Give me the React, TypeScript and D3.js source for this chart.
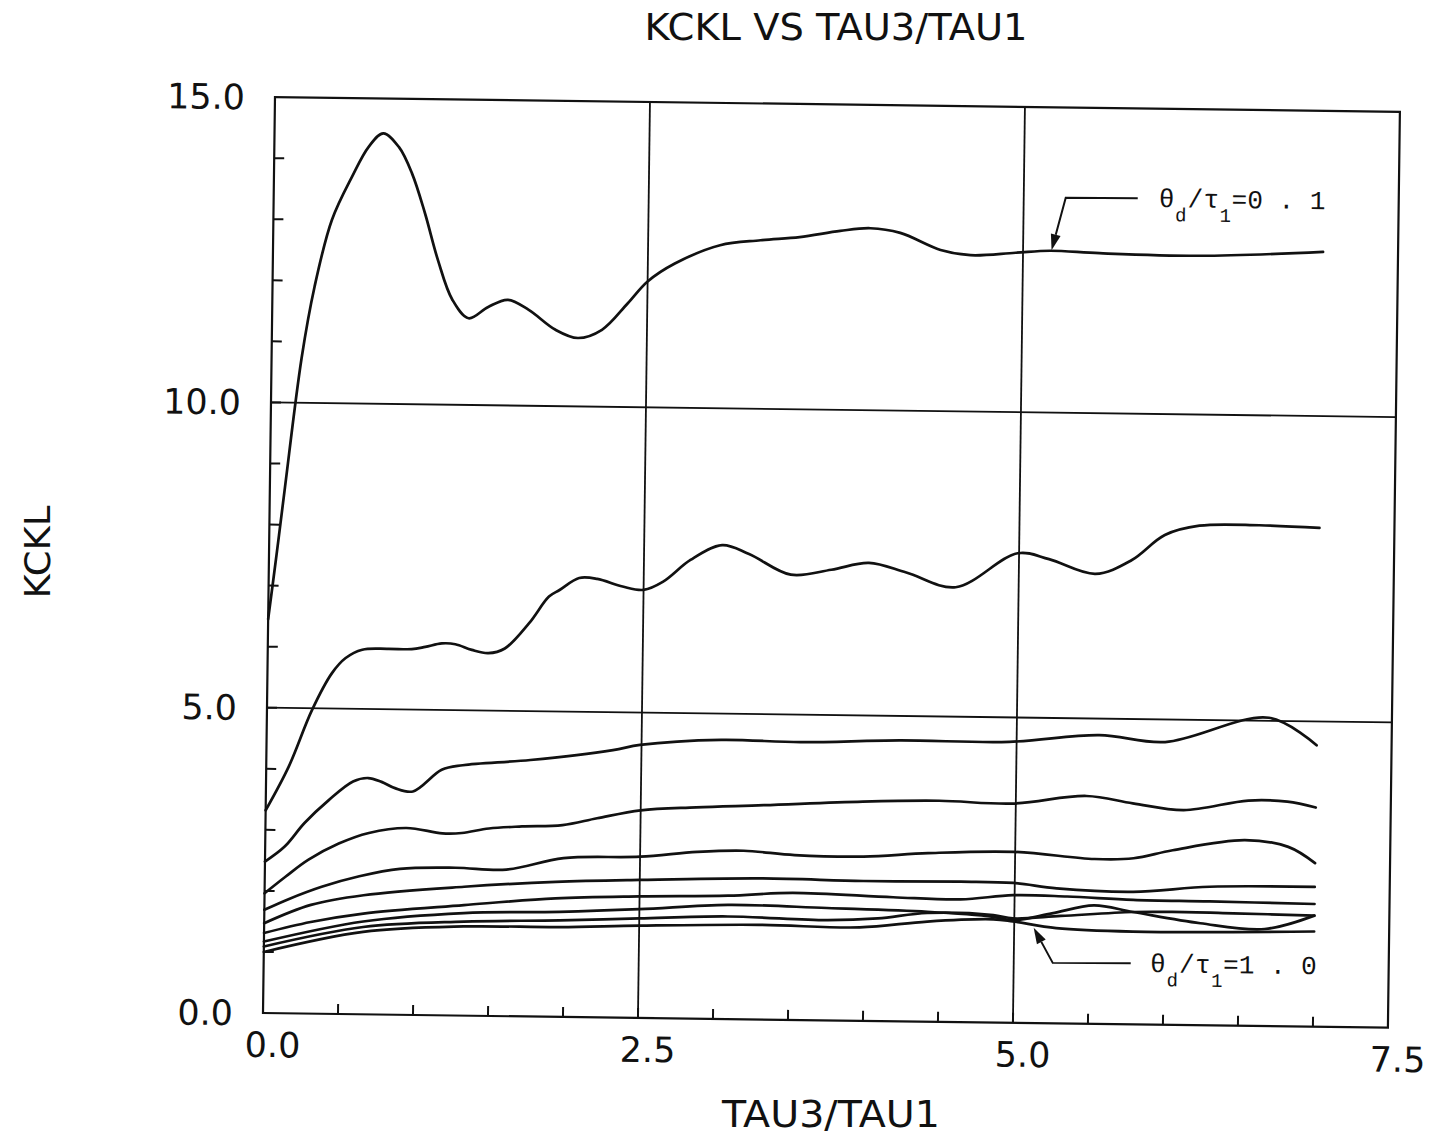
import React from "react";
import * as d3 from "d3";

type Pt = [number, number];

// theta_d / tau_1 for each curve (top curve = 0.1, bottom = 1.0)
const THETA_RATIOS = [0.1, 0.2, 0.3, 0.4, 0.5, 0.6, 0.7, 0.8, 0.9, 1.0];

const K_01: Pt[] = [[0,6.45],[0.05,7.5],[0.1,8.6],[0.2,10.73],[0.28,11.9],[0.39,13.0],[0.52,13.71],[0.63,14.21],[0.725,14.43],[0.83,14.21],[0.92,13.78],[1.01,13.13],[1.10,12.37],[1.20,11.72],[1.31,11.42],[1.44,11.61],[1.57,11.73],[1.71,11.57],[1.89,11.25],[2.04,11.12],[2.20,11.26],[2.37,11.70],[2.5,12.06],[2.68,12.36],[2.98,12.67],[3.25,12.76],[3.51,12.82],[3.78,12.93],[3.98,12.98],[4.18,12.91],[4.45,12.64],[4.65,12.56],[4.95,12.61],[5.18,12.65],[5.51,12.62],[6.18,12.6],[7.0,12.69]];
const K_02: Pt[] = [[0,3.32],[0.15,4.04],[0.3,4.97],[0.43,5.58],[0.52,5.83],[0.63,5.97],[0.8,5.99],[0.96,5.99],[1.05,6.03],[1.16,6.09],[1.25,6.08],[1.36,5.99],[1.47,5.94],[1.58,6.02],[1.74,6.44],[1.87,6.88],[1.94,6.99],[2.07,7.19],[2.19,7.18],[2.36,7.06],[2.5,7.01],[2.63,7.15],[2.81,7.51],[3.02,7.76],[3.2,7.62],[3.48,7.29],[3.75,7.38],[4.0,7.5],[4.25,7.35],[4.58,7.12],[4.99,7.69],[5.2,7.6],[5.51,7.37],[5.75,7.6],[5.97,8.02],[6.2,8.18],[6.6,8.2],[7.0,8.17]];
const K_03: Pt[] = [[0,2.48],[0.13,2.73],[0.26,3.12],[0.42,3.5],[0.58,3.81],[0.68,3.87],[0.77,3.81],[0.86,3.71],[0.98,3.66],[1.17,4.02],[1.31,4.1],[1.76,4.2],[2.31,4.38],[2.49,4.47],[3.03,4.57],[3.56,4.55],[4.22,4.6],[4.95,4.6],[5.55,4.73],[5.99,4.63],[6.68,5.05],[7.0,4.61]];
const K_04: Pt[] = [[0,1.96],[0.14,2.24],[0.29,2.52],[0.49,2.79],[0.69,2.97],[0.94,3.06],[1.18,2.98],[1.31,2.99],[1.49,3.07],[1.71,3.11],[1.98,3.14],[2.21,3.26],[2.5,3.4],[2.87,3.46],[3.32,3.51],[3.98,3.59],[4.49,3.62],[4.98,3.59],[5.47,3.73],[5.78,3.62],[6.12,3.52],[6.55,3.69],[6.81,3.68],[7.0,3.59]];
const K_05: Pt[] = [[0,1.69],[0.16,1.87],[0.38,2.08],[0.63,2.26],[0.9,2.39],[1.27,2.42],[1.61,2.4],[1.99,2.6],[2.5,2.64],[2.88,2.73],[3.19,2.76],[3.53,2.7],[3.99,2.69],[4.42,2.76],[4.99,2.8],[5.53,2.7],[5.79,2.72],[6.05,2.86],[6.53,3.04],[6.82,2.94],[7.0,2.68]];
const K_06: Pt[] = [[0,1.47],[0.31,1.78],[0.66,1.95],[1.33,2.11],[1.94,2.21],[2.5,2.26],[3.32,2.31],[3.99,2.29],[4.64,2.3],[4.99,2.29],[5.28,2.21],[5.79,2.17],[6.3,2.27],[7.0,2.29]];
const K_07: Pt[] = [[0,1.31],[0.31,1.5],[0.66,1.65],[1.33,1.81],[1.94,1.94],[2.5,1.99],[3.09,2.02],[3.52,2.08],[4.19,2.03],[4.64,2.01],[4.99,2.09],[5.35,2.08],[5.79,2.04],[6.3,2.03],[7.0,2.01]];
const K_08: Pt[] = [[0,1.17],[0.66,1.52],[1.33,1.68],[1.97,1.72],[2.5,1.78],[3.09,1.87],[3.75,1.84],[4.42,1.8],[4.86,1.73],[4.99,1.68],[5.25,1.8],[5.53,1.94],[5.79,1.84],[6.24,1.67],[6.67,1.59],[7.0,1.82]];
const K_09: Pt[] = [[0,1.09],[0.66,1.43],[1.33,1.54],[1.97,1.58],[2.5,1.63],[3.09,1.68],[3.75,1.64],[4.09,1.68],[4.42,1.78],[4.86,1.76],[4.99,1.71],[5.31,1.76],[5.79,1.84],[6.05,1.85],[6.46,1.84],[7.0,1.82]];
const K_10: Pt[] = [[0,1.0],[0.66,1.35],[1.33,1.46],[1.97,1.47],[2.5,1.51],[3.3,1.55],[3.97,1.53],[4.42,1.64],[4.86,1.69],[4.99,1.66],[5.28,1.56],[5.79,1.52],[7.0,1.56]];

const CURVES: Pt[][] = [K_01, K_02, K_03, K_04, K_05, K_06, K_07, K_08, K_09, K_10];

const X_TICKS = [0, 2.5, 5.0, 7.5];
const X_TICK_LABELS = ["0.0", "2.5", "5.0", "7.5"];
const Y_TICKS = [0, 5, 10, 15];
const Y_TICK_LABELS = ["0.0", "5.0", "10.0", "15.0"];
const X_GRID = [2.5, 5.0];
const Y_GRID = [5, 10];

// annotation anchors in data units: tip, elbow, end of leader, text start
const NOTE_TOP = { label: "=0 . 1", tip: [5.19, 12.66], elbow: [5.28, 13.52], end: [5.76, 13.53], text: [5.9, 13.39] };
const NOTE_BOT = { label: "=1 . 0", tip: [5.13, 1.56], elbow: [5.26, 0.99], end: [5.78, 1.0], text: [5.91, 0.86] };

const TITLE = "KCKL VS TAU3/TAU1";
const X_TITLE = "TAU3/TAU1";
const Y_TITLE = "KCKL";

const FONT = "'DejaVu Sans', Verdana, sans-serif";
const MONO = "'Liberation Mono', 'DejaVu Sans Mono', monospace";

function Note({ n, x, y }: any) {
  const tip: Pt = [x(n.tip[0]), y(n.tip[1])];
  const el: Pt = [x(n.elbow[0]), y(n.elbow[1])];
  const en: Pt = [x(n.end[0]), y(n.end[1])];
  const ang = Math.atan2(tip[1] - el[1], tip[0] - el[0]);
  const L = 16, Wd = 5;
  const bx = tip[0] - L * Math.cos(ang), by = tip[1] - L * Math.sin(ang);
  const px = -Math.sin(ang) * Wd, py = Math.cos(ang) * Wd;
  const tx = x(n.text[0]), ty = y(n.text[1]);
  // pieces: [text, dx, fontSize, baseline shift]
  const parts: [string, number, number, number][] = [
    ["θ", 0, 26, 0],
    ["d", 16.5, 19, 14],
    ["/", 29, 26, 0],
    ["τ", 45, 26, 0],
    ["1", 61, 19, 14],
    [n.label, 73, 26, 0],
  ];
  return (
    <g>
      <polyline points={`${en[0]},${en[1]} ${el[0]},${el[1]} ${bx},${by}`} fill="none" stroke="#111" strokeWidth={2} />
      <path d={`M${tip[0]},${tip[1]} L${bx + px},${by + py} L${bx - px},${by - py} Z`} fill="#111" />
      {parts.map((p, i) => (
        <text key={i} x={tx + p[1]} y={ty + p[3]} fontFamily={MONO} fontSize={p[2]} fill="#111">{p[0]}</text>
      ))}
    </g>
  );
}

export default function App() {
  const W = 1433, H = 1143;
  const x = d3.scaleLinear().domain([0, 7.5]).range([263, 1388]);
  const y = d3.scaleLinear().domain([0, 15]).range([1013, 97]);
  const line = d3.line<Pt>().x(d => x(d[0])).y(d => y(d[1])).curve(d3.curveCatmullRom.alpha(0.5));
  const rot = `rotate(0.75 ${x(0)} ${y(0)})`;
  const xMinor = d3.range(0.5, 7.5, 0.5);
  const yMinor = d3.range(1, 15, 1);
  const ink = "#111";

  return (
    <svg width={W} height={H} viewBox={`0 0 ${W} ${H}`} style={{ position: "absolute", left: 0, top: 0, background: "#fff" }}>
      <rect x={0} y={0} width={W} height={H} fill="#fff" />
      <text x={836} y={40} textAnchor="middle" fontFamily={FONT} fontSize={37} fill={ink} textLength={383} lengthAdjust="spacingAndGlyphs">{TITLE}</text>
      <text x={831} y={1127} textAnchor="middle" fontFamily={FONT} fontSize={37} fill={ink} textLength={218} lengthAdjust="spacingAndGlyphs">{X_TITLE}</text>
      <text transform="translate(50,552) rotate(-90)" textAnchor="middle" fontFamily={FONT} fontSize={36} fill={ink} textLength={93} lengthAdjust="spacingAndGlyphs">{Y_TITLE}</text>

      <g transform={rot}>
        <rect x={x(0)} y={y(15)} width={x(7.5) - x(0)} height={y(0) - y(15)} fill="none" stroke={ink} strokeWidth={2.2} />
        {X_GRID.map(v => <line key={"gx" + v} x1={x(v)} x2={x(v)} y1={y(0)} y2={y(15)} stroke={ink} strokeWidth={1.8} />)}
        {Y_GRID.map(v => <line key={"gy" + v} x1={x(0)} x2={x(7.5)} y1={y(v)} y2={y(v)} stroke={ink} strokeWidth={1.8} />)}
        {xMinor.map(v => <line key={"tx" + v} x1={x(v)} x2={x(v)} y1={y(0)} y2={y(0) - 10} stroke={ink} strokeWidth={2} />)}
        {yMinor.map(v => <line key={"ty" + v} x1={x(0)} x2={x(0) + 10} y1={y(v)} y2={y(v)} stroke={ink} strokeWidth={2} />)}
        {X_TICKS.map((v, i) => (
          <text key={"lx" + v} x={x(v) + 10} y={y(0) + 44} textAnchor="middle" fontFamily={FONT} fontSize={35} fill={ink}>{X_TICK_LABELS[i]}</text>
        ))}
        {Y_TICKS.map((v, i) => (
          <text key={"ly" + v} x={x(0) - 30} y={y(v) + 12.5} textAnchor="end" fontFamily={FONT} fontSize={35} fill={ink}>{Y_TICK_LABELS[i]}</text>
        ))}
        {CURVES.map((c, i) => (
          <path key={"c" + THETA_RATIOS[i]} d={line(c) || ""} fill="none" stroke={ink} strokeWidth={2.7} strokeLinejoin="round" strokeLinecap="round" />
        ))}
        <Note n={NOTE_TOP} x={x} y={y} />
        <Note n={NOTE_BOT} x={x} y={y} />
      </g>
    </svg>
  );
}
